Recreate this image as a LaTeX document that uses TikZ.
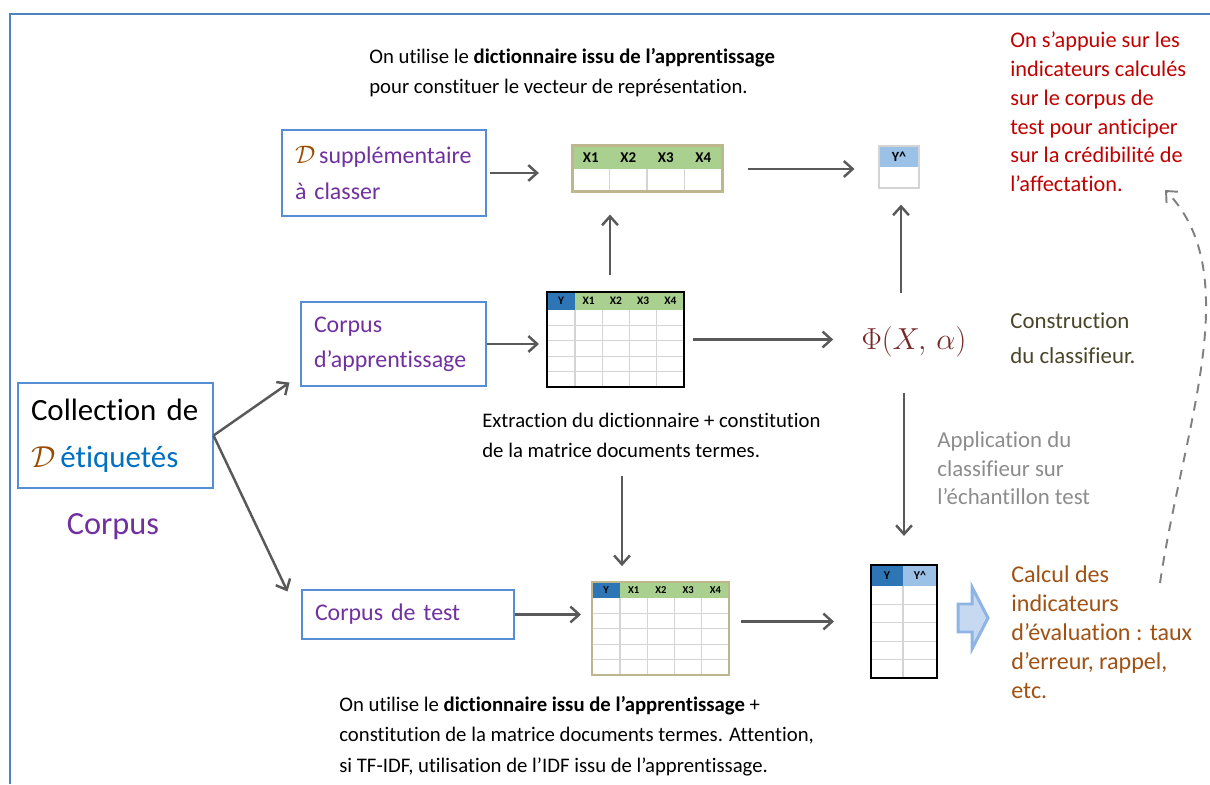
\documentclass[tikz,border=0pt]{standalone}
\usepackage{fontspec}
\setmainfont{Carlito}[Ligatures=NoCommon]
\usepackage{amsmath}
\usetikzlibrary{arrows.meta, positioning}
\hyphenpenalty=10000
\exhyphenpenalty=10000

\definecolor{frameblue}{RGB}{79,129,189}
\definecolor{boxblue}{RGB}{85,142,213}
\definecolor{arrgray}{RGB}{89,89,89}
\definecolor{corpviolet}{RGB}{112,48,160}
\definecolor{dbrown}{RGB}{153,76,0}
\definecolor{etiqblue}{RGB}{0,112,192}
\definecolor{hdrgreen}{RGB}{169,208,142}
\definecolor{hdrblue}{RGB}{46,117,182}
\definecolor{hdrlight}{RGB}{155,194,230}
\definecolor{gridgray}{RGB}{212,212,212}
\definecolor{tblborder}{RGB}{190,182,140}
\definecolor{phired}{RGB}{118,40,40}
\definecolor{olivetxt}{RGB}{73,69,41}
\definecolor{appgray}{RGB}{140,140,140}
\definecolor{calcbrown}{RGB}{160,82,20}
\definecolor{notered}{RGB}{192,0,0}
\definecolor{blkfill}{RGB}{198,217,241}
\definecolor{blkdraw}{RGB}{141,180,226}

\newcommand{\Dcal}{\textcolor{dbrown}{$\mathcal{D}$}}

\begin{document}
\begin{tikzpicture}[
  box/.style={draw=boxblue, line width=0.6pt, align=left, inner xsep=0.26cm,
              text=corpviolet, font=\fontsize{13.6}{20}\selectfont},
  arr/.style={-{Straight Barb[length=5pt, width=9pt]}, line width=1.4pt, arrgray},
  darr/.style={-{Straight Barb[length=5pt, width=9pt]}, line width=1.1pt,
               gray, dash pattern=on 5.5pt off 4.5pt},
  note/.style={align=left, anchor=west, inner sep=0, font=\fontsize{11.8}{17}\selectfont},
  tbl/.style={draw, inner sep=0, line width=1.1pt},
  hdr/.style={inner sep=0, font=\bfseries\fontsize{#1}{#1}\selectfont},
  cell/.style={gridgray, line width=0.6pt}
]
  \useasboundingbox (0,0) rectangle (24.2,15.68);
  \draw[frameblue, line width=1.1pt] (0.2,0) -- (0.2,15.4) -- (24.2,15.4);

  \node[box, text width=3.38cm, minimum height=2.1cm, text=black,
        font=\fontsize{17.6}{26.7}\selectfont] (coll) at (2.31,6.97)
    {Collection de\\\Dcal\,\textcolor{etiqblue}{étiquetés}};
  \node[text=corpviolet, font=\fontsize{18.4}{22}\selectfont] (corp) at (2.26,5.14) {Corpus};

  \node[box, text width=3.56cm, minimum height=1.72cm] (add) at (7.68,12.22)
    {\Dcal\,supplémentaire\\à classer};
  \node[box, text width=3.18cm, minimum height=1.68cm] (app) at (7.87,8.8)
    {Corpus\\d’apprentissage};
  \node[box, text width=3.72cm, minimum height=0.98cm] (tstbox) at (8.16,3.39)
    {Corpus de test};

  \fill[hdrgreen] (11.44,12.30) rectangle (14.44,12.76);
  \foreach \i in {1,...,3}
    \draw[cell] (11.44+0.75*\i,11.84) -- (11.44+0.75*\i,12.30);
  \foreach \i in {1,...,4}
    \node[hdr=8.5] at (11.44+0.75*\i-0.375,12.53) {X\i};
  \node[tbl, draw=tblborder, line width=1.7pt, minimum width=3cm,
        minimum height=0.92cm] (vec) at (12.94,12.30) {};

  \fill[hdrlight] (17.58,12.34) rectangle (18.38,12.76);
  \node[hdr=8] at (17.98,12.55) {Y\textasciicircum};
  \node[tbl, draw=gridgray, line width=0.9pt, minimum width=0.8cm,
        minimum height=0.84cm] (pred) at (17.98,12.34) {};

  \fill[hdrblue] (10.94,9.48) rectangle (11.5,9.84);
  \fill[hdrgreen] (11.5,9.48) rectangle (13.68,9.84);
  \foreach \j in {1,...,4}
    \draw[cell] (10.94,9.48-0.308*\j) -- (13.68,9.48-0.308*\j);
  \foreach \i in {0,...,3}
    \draw[cell] (11.5+0.545*\i,7.94) -- (11.5+0.545*\i,9.48);
  \node[hdr=6.5] at (11.22,9.66) {Y};
  \foreach \i in {1,...,4}
    \node[hdr=6.5] at (11.5+0.545*\i-0.2725,9.66) {X\i};
  \node[tbl, minimum width=2.74cm, minimum height=1.9cm] (dtm) at (12.31,8.89) {};

  \fill[hdrblue] (11.84,3.72) rectangle (12.4,4.04);
  \fill[hdrgreen] (12.4,3.72) rectangle (14.58,4.04);
  \foreach \j in {1,...,4}
    \draw[cell] (11.84,3.72-0.308*\j) -- (14.58,3.72-0.308*\j);
  \foreach \i in {0,...,3}
    \draw[cell] (12.4+0.545*\i,2.18) -- (12.4+0.545*\i,3.72);
  \node[hdr=6] at (12.12,3.88) {Y};
  \foreach \i in {1,...,4}
    \node[hdr=6] at (12.4+0.545*\i-0.2725,3.88) {X\i};
  \node[tbl, draw=tblborder, minimum width=2.74cm, minimum height=1.86cm] (tst) at (13.21,3.11) {};

  \fill[hdrblue] (17.42,3.96) rectangle (18.06,4.38);
  \fill[hdrlight] (18.06,3.96) rectangle (18.74,4.38);
  \foreach \j in {1,...,4}
    \draw[cell] (17.42,3.96-0.368*\j) -- (18.74,3.96-0.368*\j);
  \draw[cell] (18.06,2.12) -- (18.06,3.96);
  \node[hdr=6.8] at (17.74,4.17) {Y};
  \node[hdr=6.8] at (18.4,4.17) {Y\textasciicircum};
  \node[tbl, minimum width=1.32cm, minimum height=2.26cm] (res) at (18.08,3.25) {};

  \node[note] (dicnote) at (7.38,14.22)
    {On utilise le \textbf{dictionnaire issu de l’apprentissage}\\pour constituer le vecteur de représentation.};
  \node[note] (extr) at (9.64,6.97)
    {Extraction du dictionnaire + constitution\\de la matrice documents termes.};
  \node[note, font=\fontsize{11.8}{17.4}\selectfont] (tstnote) at (6.78,0.96)
    {On utilise le \textbf{dictionnaire issu de l’apprentissage} +\\constitution de la matrice documents termes. Attention,\\si TF-IDF, utilisation de l’IDF issu de l’apprentissage.};
  \node[note, text=notered, font=\fontsize{12.7}{16.4}\selectfont] (cred) at (20.2,13.44)
    {On s’appuie sur les\\indicateurs calculés\\sur le corpus de\\test pour anticiper\\sur la crédibilité de\\l’affectation.};
  \node[note, text=olivetxt, font=\fontsize{13}{19.9}\selectfont] (constr) at (20.2,8.91)
    {Construction\\du classifieur.};
  \node[note, text=appgray, font=\fontsize{13}{16.2}\selectfont] (appl) at (18.74,6.31)
    {Application du\\classifieur sur\\l’échantillon test};
  \node[note, text=calcbrown, font=\fontsize{13.7}{16.5}\selectfont] (calc) at (20.22,3.04)
    {Calcul des\\indicateurs\\d’évaluation : taux\\d’erreur, rappel,\\etc.};
  \node[text=phired, font=\fontsize{18.5}{22}\selectfont, inner sep=0] (phi) at (18.28,8.84)
    {$\Phi(X,\,\alpha)$};

  \draw[blkdraw, fill=blkfill, line width=1.7pt, line join=miter]
    (19.16,3.6) -- (19.44,3.6) -- (19.44,3.94) -- (19.76,3.32)
    -- (19.44,2.7) -- (19.44,3.04) -- (19.16,3.04) -- cycle;

  \draw[arr] (coll.east) -- ([xshift=-0.22cm, yshift=0.08cm]app.south west);
  \draw[arr] (coll.east) -- ([xshift=-0.28cm, yshift=-0.04cm]tstbox.north west);
  \draw[arr, shorten <=2pt, shorten >=18pt] (add.east) -- (add.east -| vec.west);
  \draw[arr, shorten <=14pt, shorten >=13.5pt] (vec.east) -- (vec.east -| pred.west);
  \draw[arr, shorten <=9pt, shorten >=12pt] ([xshift=-0.11cm]dtm.north)
    -- ([xshift=-0.11cm]dtm.north |- vec.south);
  \draw[arr, shorten <=19pt, shorten >=9pt] ([xshift=0.04cm]pred.south |- phi.north)
    -- ([xshift=0.04cm]pred.south);
  \draw[arr, shorten >=4pt] (app.east) -- (app.east -| dtm.west);
  \draw[arr, shorten <=4.5pt, shorten >=16pt] (dtm.east) -- (dtm.east -| phi.west);
  \draw[arr, shorten <=20pt, shorten >=16pt] (res.north |- phi.south) -- (res.north);
  \draw[arr, shorten >=5.7pt] (tstbox.east) -- (tstbox.east -| tst.west);
  \draw[arr, shorten <=10pt, shorten >=8.5pt] ([xshift=-0.77cm]tst.north |- extr.south)
    -- ([xshift=-0.77cm]tst.north);
  \draw[arr, shorten <=6.3pt, shorten >=20.5pt] (tst.east |- res.west) -- (res.west);

  \coordinate (dsrc) at (23.2,4.02);
  \coordinate (dtgt) at (23.3,11.88);
  \draw[darr] (dsrc) .. controls (23.65,7.08) and (24.95,10.2) .. (dtgt);
\end{tikzpicture}
\end{document}
